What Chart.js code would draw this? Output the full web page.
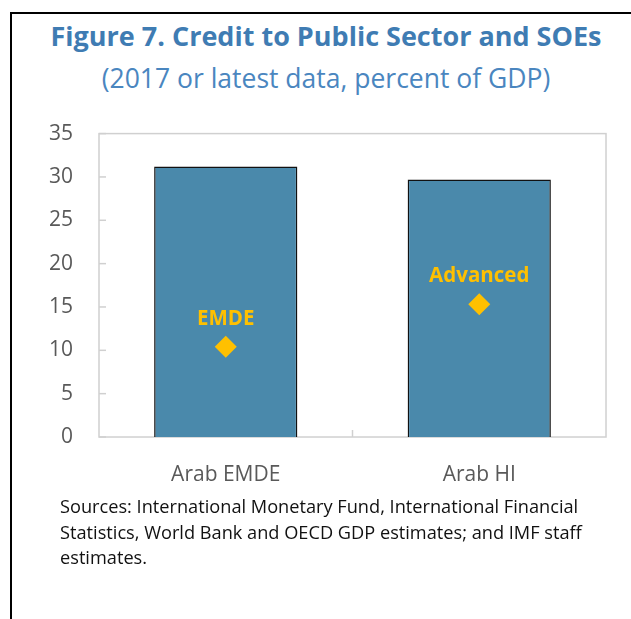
<!DOCTYPE html>
<html>
<head>
<meta charset="utf-8">
<script src="https://cdn.jsdelivr.net/npm/chart.js@4"></script>
<style>
  html, body { margin: 0; padding: 0; background: #fff; }
  body { width: 631px; height: 619px; position: relative; overflow: hidden; font-family: "Open Sans", "Noto Sans", sans-serif; }
  #frame { position: absolute; left: 10px; top: 12px; width: 700px; height: 700px; border-left: 2px solid #000; border-top: 2px solid #000; }
  #title { position: absolute; left: 0; width: 652px; top: 17px; text-align: center; font-size: 27px; font-weight: bold; color: #3f7cb3; }
  #subtitle { position: absolute; left: 0; width: 652px; top: 60px; text-align: center; font-size: 26.5px; color: #4a86bf; }
  #sources { position: absolute; left: 60px; top: 494px; font-size: 18.2px; line-height: 25.5px; color: #111; }
  #wrap { position: absolute; left: 0; top: 95px; width: 631px; height: 415px; }
</style>
</head>
<body>
<div id="frame"></div>
<div id="title">Figure 7. Credit to Public Sector and SOEs</div>
<div id="subtitle">(2017 or latest data, percent of GDP)</div>
<div id="wrap"><canvas id="chart"></canvas></div>
<div id="sources">Sources: International Monetary Fund, International Financial<br>Statistics, World Bank and OECD GDP estimates; and IMF staff<br>estimates.</div>
<script>
// categories and values
const categories = ["Arab EMDE", "Arab HI"];
const regionValues = [31.2, 29.7];
const benchmarkValues = [10.4, 15.3];
const benchmarkNames = ["EMDE", "Advanced"];

const frameBox = {
  id: "frameBox",
  beforeDatasetsDraw(chart) {
    const { ctx, chartArea: a, scales } = chart;
    ctx.save();
    ctx.strokeStyle = "#d0d0d0";
    ctx.lineWidth = 1.5;
    ctx.strokeRect(a.left, a.top, a.right - a.left, a.bottom - a.top);
    // inward ticks on y axis
    scales.y.ticks.forEach((t) => {
      const y = scales.y.getPixelForValue(t.value);
      ctx.beginPath();
      ctx.moveTo(a.left, y);
      ctx.lineTo(a.left + 7, y);
      ctx.stroke();
    });
    // tick between categories
    const mid = (scales.x.getPixelForValue(0) + scales.x.getPixelForValue(1)) / 2;
    ctx.beginPath();
    ctx.moveTo(mid, a.bottom);
    ctx.lineTo(mid, a.bottom - 7);
    ctx.stroke();
    ctx.restore();
  },
  afterDatasetsDraw(chart) {
    const { ctx } = chart;
    const meta = chart.getDatasetMeta(0);
    ctx.save();
    ctx.fillStyle = "#ffc000";
    ctx.font = "bold 20.5px 'Open Sans', sans-serif";
    ctx.textAlign = "center";
    ctx.textBaseline = "middle";
    meta.data.forEach((pt, i) => {
      ctx.fillText(benchmarkNames[i], pt.x, pt.y - 28);
    });
    ctx.restore();
  }
};

new Chart(document.getElementById("chart"), {
  data: {
    labels: categories,
    datasets: [
      {
        type: "line",
        label: "Benchmark",
        data: benchmarkValues,
        showLine: false,
        pointStyle: "rectRot",
        pointRadius: 11,
        pointBackgroundColor: "#ffc000",
        pointBorderColor: "#ffc000",
        pointBorderWidth: 0,
        order: 0,
      },
      {
        type: "bar",
        label: "Credit",
        data: regionValues,
        backgroundColor: "#4a89ab",
        borderColor: "#111",
        borderWidth: 1.5,
        barPercentage: 1,
        categoryPercentage: 0.565,
        order: 1,
      },
    ],
  },
  options: {
    responsive: true,
    maintainAspectRatio: false,
    animation: false,
    layout: { padding: { top: 10, right: 25, left: 0, bottom: 0 } },
    scales: {
      x: {
        grid: { display: false, drawTicks: false },
        border: { display: false },
        ticks: { padding: 25, color: "#595959", font: { family: "Open Sans", size: 21 } },
        afterFit(scale) { scale.height = 73; },
      },
      y: {
        min: 0,
        max: 35,
        grid: { display: false, drawTicks: false },
        border: { display: false },
        ticks: { stepSize: 5, padding: 26, color: "#595959", font: { family: "Open Sans", size: 21 } },
        afterFit(scale) { scale.width = 99; },
      },
    },
    plugins: {
      legend: { display: false },
      tooltip: { enabled: false },
    },
  },
  plugins: [frameBox],
});
</script>
</body>
</html>
